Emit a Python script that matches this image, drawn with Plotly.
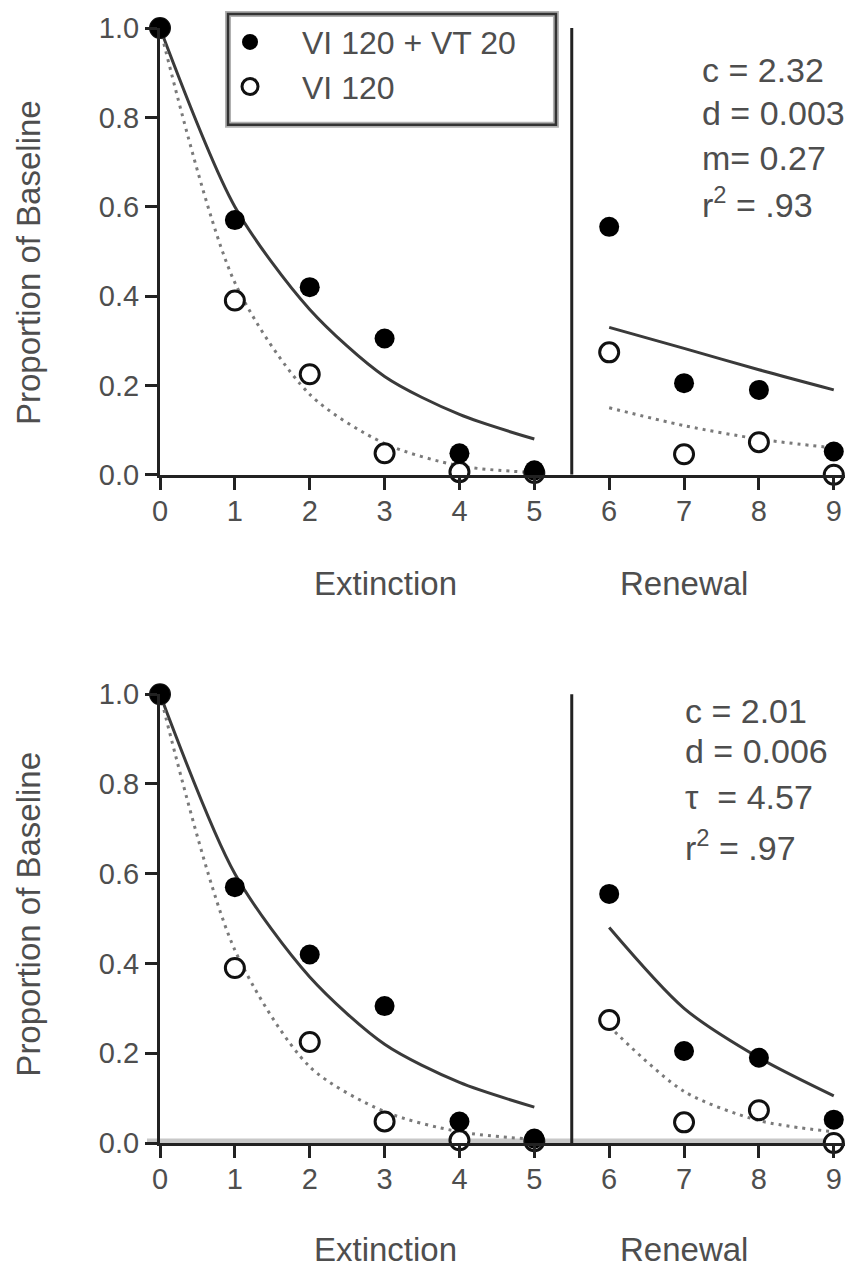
import plotly.graph_objects as go

# Sessions: 0-5 extinction, 6-9 renewal
sessions = [0, 1, 2, 3, 4, 5, 6, 7, 8, 9]
ext_x = [0, 1, 2, 3, 4, 5]
ren_x = [6, 7, 8, 9]

# Observed proportion of baseline
vi_vt = [1.0, 0.57, 0.42, 0.305, 0.048, 0.01, 0.555, 0.205, 0.19, 0.052]
vi_only = [1.0, 0.39, 0.225, 0.048, 0.006, 0.004, 0.274, 0.046, 0.073, 0.0]

# Model predictions, top panel
top_fit_vivt_ext = [1.0, 0.60, 0.37, 0.22, 0.135, 0.08]
top_fit_vi_ext = [1.0, 0.43, 0.18, 0.07, 0.02, 0.005]
top_fit_vivt_ren = [0.33, 0.283, 0.235, 0.19]
top_fit_vi_ren = [0.15, 0.11, 0.08, 0.06]

# Model predictions, bottom panel
bot_fit_vivt_ext = [1.0, 0.60, 0.37, 0.22, 0.135, 0.08]
bot_fit_vi_ext = [1.0, 0.43, 0.17, 0.07, 0.025, 0.008]
bot_fit_vivt_ren = [0.48, 0.30, 0.19, 0.105]
bot_fit_vi_ren = [0.26, 0.115, 0.05, 0.025]

top_params = ["c = 2.32", "d = 0.003", "m= 0.27", "r<sup>2</sup> = .93"]
bot_params = ["c = 2.01", "d = 0.006", "\u03c4  = 4.57", "r<sup>2</sup> = .97"]

y_ticks = [0.0, 0.2, 0.4, 0.6, 0.8, 1.0]
y_ticktext = ["0.0", "0.2", "0.4", "0.6", "0.8", "1.0"]

FONT = "Liberation Sans, Arial, sans-serif"
TXT = "#4e4e4e"
AX = "#222222"

fig = go.Figure()

panels = [
    ("x", "y", top_fit_vivt_ext, top_fit_vi_ext, top_fit_vivt_ren, top_fit_vi_ren, True),
    ("x2", "y2", bot_fit_vivt_ext, bot_fit_vi_ext, bot_fit_vivt_ren, bot_fit_vi_ren, False),
]

for xa, ya, f1e, f2e, f1r, f2r, legend in panels:
    for xs, ys in [(ext_x, f1e), (ren_x, f1r)]:
        fig.add_trace(go.Scatter(x=xs, y=ys, mode="lines", xaxis=xa, yaxis=ya,
                                 line=dict(color="#3a3a3a", width=3, shape="spline",
                                           smoothing=0.8),
                                 showlegend=False, hoverinfo="skip"))
    for xs, ys in [(ext_x, f2e), (ren_x, f2r)]:
        fig.add_trace(go.Scatter(x=xs, y=ys, mode="lines", xaxis=xa, yaxis=ya,
                                 line=dict(color="#7a7a7a", width=3, dash="3px,5px",
                                           shape="spline", smoothing=0.8),
                                 showlegend=False, hoverinfo="skip"))
    fig.add_trace(go.Scatter(x=sessions, y=vi_only, mode="markers", xaxis=xa, yaxis=ya,
                             name="VI 120", showlegend=legend, cliponaxis=False,
                             legendrank=2,
                             marker=dict(symbol="circle", size=19, color="white",
                                         line=dict(color="#111111", width=3))))
    fig.add_trace(go.Scatter(x=sessions, y=vi_vt, mode="markers", xaxis=xa, yaxis=ya,
                             name="VI 120 + VT 20", showlegend=legend, cliponaxis=False,
                             legendrank=1,
                             marker=dict(symbol="circle", size=20, color="#000000",
                                         line=dict(width=0))))

axis_common = dict(showline=True, linecolor=AX, linewidth=3, ticks="outside",
                   tickcolor=AX, tickwidth=3, showgrid=False, zeroline=False,
                   tickfont=dict(family=FONT, size=29, color=TXT))

x_common = dict(axis_common, range=[0, 9.15], tickvals=sessions, ticklen=12,
                ticklabelstandoff=-4)
y_common = dict(axis_common, range=[0, 1.0], tickvals=y_ticks, ticktext=y_ticktext,
                ticklen=12)

fig.update_layout(
    width=857, height=1268,
    margin=dict(l=160, r=12, t=25, b=125),
    paper_bgcolor="white", plot_bgcolor="white",
    xaxis=dict(x_common, anchor="y"),
    yaxis=dict(y_common, domain=[0.5993, 1.0], anchor="x"),
    xaxis2=dict(x_common, anchor="y2"),
    yaxis2=dict(y_common, domain=[0.0, 0.4025], anchor="x2"),
    legend=dict(x=0.0555, y=1.012, xanchor="left", yanchor="top",
                bgcolor="rgba(0,0,0,0)", borderwidth=0, traceorder="normal",
                font=dict(family=FONT, size=32, color=TXT), itemwidth=94),
    showlegend=True,
)

shapes = []
# divider between extinction and renewal
for ya in ["y", "y2"]:
    shapes.append(dict(type="line", xref="x" if ya == "y" else "x2", yref=ya,
                       x0=5.5, x1=5.5, y0=0, y1=1.015,
                       line=dict(color=AX, width=3), layer="above"))
# light band under the bottom x axis
shapes.append(dict(type="line", xref="paper", yref="y2", x0=-0.019, x1=1.0, y0=0, y1=0,
                   line=dict(color="#c8c8c8", width=9), layer="below"))
# legend frame
shapes.append(dict(type="rect", xref="paper", yref="paper",
                   x0=0.0993, x1=0.578, y0=0.9133, y1=1.0125,
                   line=dict(color="#b0b0b0", width=6), layer="above"))
shapes.append(dict(type="rect", xref="paper", yref="paper",
                   x0=0.0993, x1=0.578, y0=0.9133, y1=1.0125,
                   line=dict(color="#333333", width=2.5), layer="above"))
fig.update_layout(shapes=shapes)

ann = []
for i, t in enumerate(top_params):
    ann.append(dict(text=t, x=7.21, y=[0.906, 0.81, 0.71, 0.609][i], xref="x", yref="y",
                    xanchor="left", yanchor="middle", showarrow=False,
                    font=dict(family=FONT, size=34, color=TXT)))
for i, t in enumerate(bot_params):
    ann.append(dict(text=t, x=6.99, y=[0.962, 0.873, 0.771, 0.664][i], xref="x2", yref="y2",
                    xanchor="left", yanchor="middle", showarrow=False,
                    font=dict(family=FONT, size=34, color=TXT)))
# phase labels under each panel
for yy in [0.5018, -0.0957]:
    ann.append(dict(text="Extinction", x=0.3285, y=yy, xref="paper", yref="paper",
                    showarrow=False, xanchor="center", yanchor="middle",
                    font=dict(family=FONT, size=33, color=TXT)))
    ann.append(dict(text="Renewal", x=0.765, y=yy, xref="paper", yref="paper",
                    showarrow=False, xanchor="center", yanchor="middle",
                    font=dict(family=FONT, size=33, color=TXT)))
# y-axis titles
for yc in [(0.5993 + 1.0) / 2 - 0.01, 0.4025 / 2 + 0.004]:
    ann.append(dict(text="Proportion of Baseline", x=-0.192, y=yc,
                    xref="paper", yref="paper", textangle=-90, showarrow=False,
                    xanchor="center", yanchor="middle",
                    font=dict(family=FONT, size=33, color=TXT)))
fig.update_layout(annotations=ann)

fig.write_html("out.html")
